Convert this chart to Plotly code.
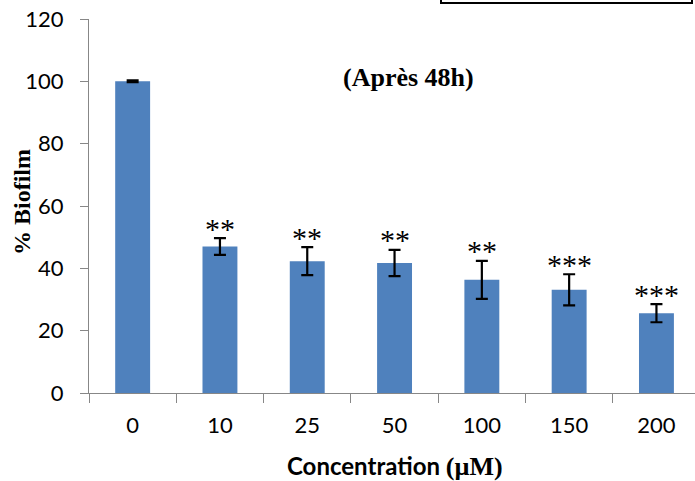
import plotly.graph_objects as go

categories = ["0", "10", "25", "50", "100", "150", "200"]
biofilm = [100, 47.0, 42.3, 41.7, 36.3, 33.1, 25.6]
errors = [0.3, 2.7, 4.5, 4.2, 6.1, 5.0, 2.9]
stars = ["", "**", "**", "**", "**", "***", "***"]

W, H = 695, 481
L, R, T, B = 89, 0, 19, H - 393
pw = W - L - R
ph = H - T - B

def px(x):
    return (x - L) / pw

def py(y):
    return (H - B - y) / ph

fig = go.Figure()
fig.add_trace(go.Bar(
    x=categories, y=biofilm, width=0.4,
    marker=dict(color="#4F81BD", line=dict(width=0)),
    error_y=dict(type="data", array=errors, color="black", thickness=2.2, width=6),
    showlegend=False,
))

for i, (v, e, s) in enumerate(zip(biofilm, errors, stars)):
    if s:
        fig.add_annotation(x=i, y=v + e, xref="x", yref="y", text=s, showarrow=False,
                           yanchor="middle", yshift=10,
                           font=dict(family="Liberation Serif", size=30, color="black"))

fig.add_annotation(xref="paper", yref="paper", x=px(409), y=py(78), text="<b>(Après 48h)</b>",
                   showarrow=False, xanchor="center", yanchor="middle",
                   font=dict(family="Liberation Serif", size=26, color="black"))
fig.add_annotation(xref="paper", yref="paper", x=px(22), y=py(202), text="<b>% Biofilm</b>",
                   showarrow=False, textangle=-90, xanchor="center", yanchor="middle",
                   font=dict(family="Liberation Serif", size=24, color="black"))
fig.add_annotation(xref="paper", yref="paper", x=px(395), y=py(466),
                   text="<b>Concentration <span style='font-family:Liberation Serif;font-size:26px'>(µM)</span></b>",
                   showarrow=False, xanchor="center", yanchor="middle",
                   font=dict(family="Lato", size=24, color="black"))

fig.add_shape(type="rect", xref="paper", yref="paper", x0=px(441), x1=px(692), y0=py(3), y1=py(-20),
              line=dict(color="black", width=2), fillcolor="rgba(0,0,0,0)")

xmax = -0.5 + (W - L) / 87.3

fig.update_layout(
    width=W, height=H,
    margin=dict(l=L, r=R, t=T, b=B, pad=0),
    plot_bgcolor="white", paper_bgcolor="white",
    xaxis=dict(type="category", range=[-0.5, xmax], showline=True, linecolor="#878787", linewidth=1.3,
               ticks="outside", tickson="boundaries", ticklen=9, tickcolor="#878787", tickwidth=1.3,
               showgrid=False, zeroline=False, ticklabelstandoff=12,
               tickfont=dict(family="Lato", size=22, color="black")),
    yaxis=dict(range=[0, 120], dtick=20, showline=True, linecolor="#878787", linewidth=1.3,
               ticks="outside", ticklen=8, tickcolor="#878787", tickwidth=1.3,
               showgrid=False, zeroline=False, ticklabelstandoff=12,
               tickfont=dict(family="Lato", size=22, color="black")),
)

fig.write_html("out.html", post_script="document.body.style.margin='0px';",
               config={"displayModeBar": False})
